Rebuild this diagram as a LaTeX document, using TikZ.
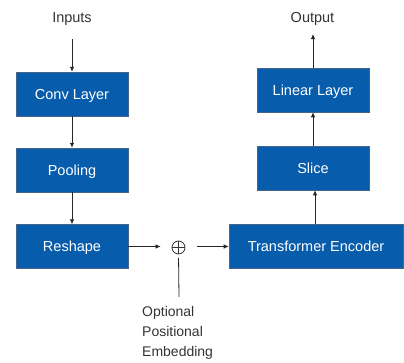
\documentclass[tikz,border=0pt]{standalone}
\usepackage{fontspec}
\setmainfont{Liberation Sans}
\usetikzlibrary{arrows.meta}
\definecolor{boxblue}{RGB}{8,92,172}
\definecolor{boxedge}{RGB}{70,100,140}
\definecolor{txtgray}{RGB}{51,51,51}
\tikzset{
  blk/.style={rectangle, fill=boxblue, draw=boxedge, line width=0.5bp, text=white,
    minimum height=44bp, inner sep=0pt, text height=10.4bp, text depth=0bp,
    font=\fontsize{14.5bp}{17bp}\selectfont},
  lbl/.style={text=txtgray, inner sep=0pt, text height=10.4bp, text depth=0bp,
    font=\fontsize{14.5bp}{17bp}\selectfont},
  conn/.style={draw=black!85, line width=0.8bp, -{Latex[length=5bp,width=4.5bp]}},
  plain/.style={draw=black!85, line width=0.8bp},
}
\begin{document}
\begin{tikzpicture}[x=1bp,y=-1bp]
\useasboundingbox (0,0) rectangle (404,363);
% left column
\node[blk, minimum width=112bp] (conv) at (72,94) {Conv Layer};
\node[blk, minimum width=112bp] (pool) at (72,170) {Pooling};
\node[blk, minimum width=112bp] (resh) at (72,246.5) {Reshape};
% right column
\node[blk, minimum width=112bp] (lin) at (313,90) {Linear Layer};
\node[blk, minimum width=112bp] (slice) at (313,168) {Slice};
\node[blk, minimum width=174bp] (trans) at (316,246.5) {Transformer Encoder};
% labels
\node[lbl] (inputs) at (72,17.5) {Inputs};
\node[lbl] (output) at (312.5,17.5) {Output};
\coordinate (inend) at (72,39);
\coordinate (outend) at (313,34);
% plus
\node[circle, draw=txtgray, line width=0.8bp, minimum size=13bp, inner sep=0pt,
  path picture={\draw[txtgray, line width=0.8bp]
    (path picture bounding box.north) -- (path picture bounding box.south)
    (path picture bounding box.west) -- (path picture bounding box.east);}] (plus) at (178.5,247.5) {};
\coordinate (embtop) at (179,297);
\node[text=txtgray, inner sep=0pt, anchor=north west, align=left,
  font=\fontsize{14bp}{20bp}\selectfont] (emb) at (142,306.5)
  {Optional\\Positional\\Embedding};
% connectors
\draw[conn] (inend) -- (conv.north);
\draw[conn] (conv.south) -- (pool.north);
\draw[conn] (pool.south) -- (resh.north);
\draw[conn, shorten >=11bp] (resh.east) -- (plus.west |- resh.east);
\draw[conn, shorten <=12bp] (plus.east |- trans.west) -- (trans.west);
\draw[plain, shorten <=3.5bp] (plus.south) -- (embtop);
\draw[conn] ([xshift=-1bp]trans.north) -- ([xshift=-1bp]trans.north |- slice.south);
\draw[conn] (slice.north) -- (lin.south);
\draw[conn] (lin.north) -- (outend);
\end{tikzpicture}
\end{document}
